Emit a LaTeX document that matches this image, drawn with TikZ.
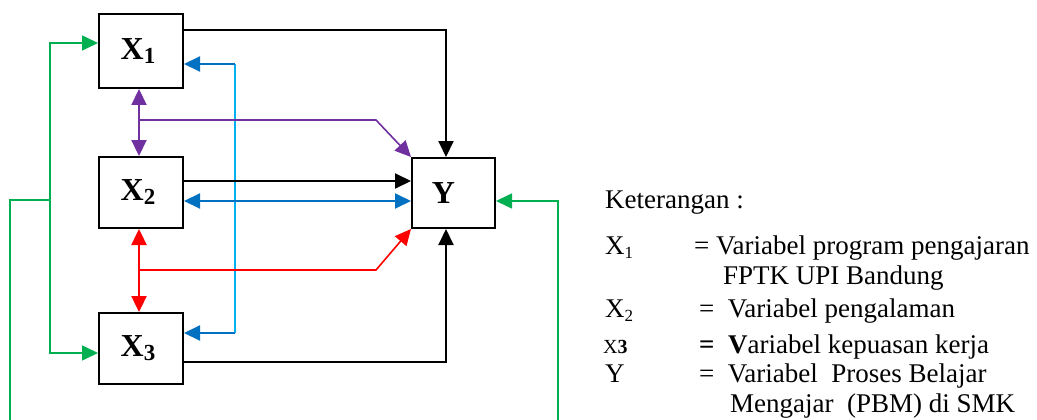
\documentclass[tikz,border=0pt]{standalone}
\usepackage{fontspec}
\setmainfont{Liberation Serif}
\usetikzlibrary{arrows.meta}
\definecolor{cgreen}{HTML}{00B050}
\definecolor{cpurple}{HTML}{7030A0}
\definecolor{cblue}{HTML}{0070C0}
\definecolor{ccyan}{HTML}{00B0F0}
\definecolor{cred}{HTML}{FF0000}
\tikzset{
  Tri/.tip={Triangle[length=16pt,width=15pt]},
  boxnode/.style={draw=black,line width=2pt,minimum width=84pt,inner sep=0pt,
    font=\fontsize{32}{32}\selectfont\bfseries},
  blk/.style={draw=black,line width=2pt},
  grn/.style={draw=cgreen,line width=1.6pt},
  pur/.style={draw=cpurple,line width=1.6pt},
  pur2/.style={draw=cpurple,line width=2.2pt},
  blu/.style={draw=cblue,line width=2pt},
  cyn/.style={draw=ccyan,line width=1.6pt},
  rd/.style={draw=cred,line width=1.6pt},
  rd2/.style={draw=cred,line width=2.4pt},
  legend/.style={anchor=base west,inner sep=0pt,font=\fontsize{27}{30}\selectfont},
}
\newcommand{\boxsub}[1]{\raisebox{-4pt}{\fontsize{23}{23}\selectfont\bfseries #1}}
\newcommand{\legsub}[1]{\raisebox{-4pt}{\fontsize{17}{17}\selectfont #1}}
\begin{document}
\begin{tikzpicture}[x=1pt,y=-1pt]
\useasboundingbox (0,0) rectangle (1037,420);

% boxes
\node[boxnode,minimum height=74pt] (X1) at (141,51) {\hspace*{-6pt}X\boxsub{1}};
\node[boxnode,minimum height=71pt] (X2) at (141,192.5) {\hspace*{-6pt}X\boxsub{2}};
\node[boxnode,minimum height=71pt] (X3) at (141,348.5) {\hspace*{-6pt}X\boxsub{3}};
\node[boxnode,minimum width=83pt,minimum height=70pt] (Y) at (453.5,193) {\hspace*{-20pt}Y};

% coordinates
\coordinate (gTop) at (50,43);
\coordinate (gBot) at (50,353);
\coordinate (gMid) at (50,200);
\coordinate (gL) at (10,200);
\coordinate (gLB) at (10,420);
\coordinate (gRB) at (558,420);
\coordinate (gR) at (558,201);
\coordinate (b1) at (446,30);
\coordinate (b2) at (300,181);
\coordinate (b3) at (446,362);
\coordinate (bl2) at (300,201);
\coordinate (c1) at (235,64);
\coordinate (c3) at (235,333);
\coordinate (p0) at (139,120);
\coordinate (p1) at (376,120);
\coordinate (r0) at (139,270);
\coordinate (r1) at (376,270);

% green
\draw[grn,-{Tri}] (gMid) -- (gTop) -- (gTop -| X1.west);
\draw[grn,-{Tri}] (gMid) -- (gBot) -- (gBot -| X3.west);
\draw[grn] (gMid) -- (gL) -- (gLB);
\draw[grn,-{Tri}] (gRB) -- (gR) -- (gR -| Y.east);

% cyan / blue
\draw[cyn] (c1) -- (c3);
\draw[blu,-{Tri}] (c1) -- (c1 -| X1.east);
\draw[blu,-{Tri}] (c3) -- (c3 -| X3.east);

% black
\draw[blk,-{Tri}] (b1 -| X1.east) -- (b1) -- (b1 |- Y.north);
\draw[blk,-{Tri}] (b3 -| X3.east) -- (b3) -- (b3 |- Y.south);
\draw[blk,-{Tri}] (b2 -| X2.east) -- (b2 -| Y.west);
\draw[blu,{Tri}-{Tri}] (bl2 -| X2.east) -- (bl2 -| Y.west);

% purple
\draw[pur2,{Tri}-{Tri}] (p0 |- X1.south) -- (p0 |- X2.north);
\draw[pur,-{Tri}] (p0) -- (p1) -- (Y.north west);

% red
\draw[rd2,{Tri}-{Tri}] (r0 |- X2.south) -- (r0 |- X3.north);
\draw[rd,-{Tri}] (r0) -- (r1) -- (Y.south west);

% legend
\node[legend] (k0) at (605,208) {Keterangan :};
\node[legend] (k1) at (605,254) {X\legsub{1}};
\node[legend] (k1t) at (694,254) {= Variabel program pengajaran};
\node[legend] (k1u) at (723,284) {FPTK UPI Bandung};
\node[legend] (k2) at (605,317) {X\legsub{2}};
\node[legend] (k2t) at (699,317) {=\ \ Variabel pengalaman};
\node[legend] (k3) at (603,353) {\fontsize{20}{20}\selectfont X\textbf{3}};
\node[legend] (k3t) at (699,353) {\textbf{=}\ \ \textbf{V}ariabel kepuasan kerja};
\node[legend] (k4) at (605,382) {Y};
\node[legend] (k4t) at (699,382) {=\ \ Variabel\ \ Proses Belajar};
\node[legend] (k4u) at (730,412) {Mengajar\ \ (PBM) di SMK};
\end{tikzpicture}
\end{document}
